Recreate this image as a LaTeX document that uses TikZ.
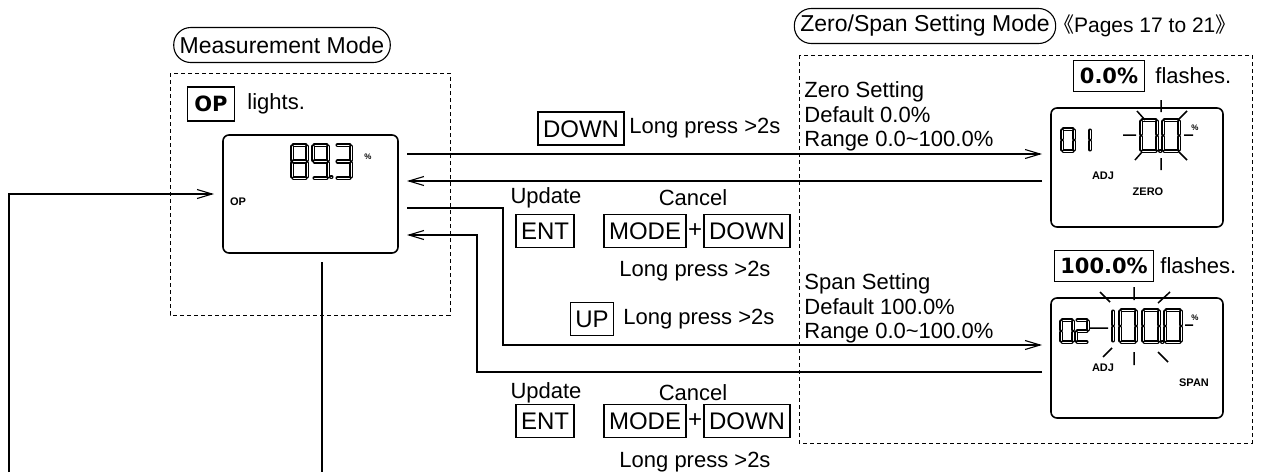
\documentclass[tikz,border=0pt]{standalone}
\usepackage{fontspec}
\setmainfont{Liberation Sans}
\newfontfamily\keyfont{DejaVu Sans}
\newfontfamily\cjk{Noto Sans CJK JP}
\usetikzlibrary{arrows.meta,calc}

% segments of one LCD digit, cell \dw x \dh
\newcommand{\lcdsega}{(1.5,0) -- (\dw-1.5,0)}
\newcommand{\lcdsegb}{(\dw,1.5) -- (\dw,\dh/2-1.5)}
\newcommand{\lcdsegc}{(\dw,\dh/2+1.5) -- (\dw,\dh-1.5)}
\newcommand{\lcdsegd}{(1.5,\dh) -- (\dw-1.5,\dh)}
\newcommand{\lcdsege}{(0,\dh/2+1.5) -- (0,\dh-1.5)}
\newcommand{\lcdsegf}{(0,1.5) -- (0,\dh/2-1.5)}
\newcommand{\lcdsegg}{(1.5,\dh/2) -- (\dw-1.5,\dh/2)}
\newcommand{\segdigit}[5]{%
  \begin{scope}[shift={(#1,#2)}]
    \def\dw{#3}\def\dh{#4}
    \foreach \s in {#5}{\draw[lcdseg] \csname lcdseg\s\endcsname;}
  \end{scope}}

\tikzset{
  txt/.style={font=\fontsize{11}{12.4}\selectfont, inner sep=0pt},
  modepill/.style={draw, line width=0.55pt, rounded corners=8.5pt, minimum height=17.5pt,
    inner xsep=3pt, inner ysep=0pt, font=\fontsize{11.5}{13}\selectfont},
  key/.style={draw, line width=0.55pt, font=\fontsize{12}{14}\selectfont, inner xsep=2.5pt,
    inner ysep=0pt, minimum height=16.5pt, text height=8.6pt, text depth=0pt},
  keylbl/.style={draw, line width=0.55pt, font=\keyfont\bfseries\fontsize{10.5}{12}\selectfont,
    inner xsep=3pt, inner ysep=0pt, minimum height=15.5pt, text height=7.7pt, text depth=0pt},
  lcd/.style={draw, line width=0.8pt, rounded corners=3pt, inner sep=0pt, outer sep=4.5pt},
  lcdtxt/.style={font=\bfseries\fontsize{5.5}{6}\selectfont, inner sep=0pt},
  lcdpct/.style={font=\bfseries\fontsize{4}{5}\selectfont, inner sep=0pt},
  lcdseg/.style={line width=0.8pt, double=white, double distance=0.45pt, line cap=round},
  ray/.style={line width=0.75pt},
  area/.style={line width=0.5pt, dash pattern=on 2pt off 1.5pt},
  flow/.style={line width=0.55pt, -{Straight Barb[length=7.5pt,width=4.5pt]}},
}

\begin{document}
\begin{tikzpicture}[x=0.5pt,y=-0.5pt]
\useasboundingbox (0,0) rectangle (1262,472);

\node[modepill] (measMode) at (282,45) {Measurement Mode};

\node[modepill] (zsMode) at (925,26) {Zero/Span Setting Mode};

\node[txt, font=\fontsize{10.5}{12}\selectfont] (pages) at (1150,26)
  {\hspace{-.5em}{\cjk 《}Pages 17 to 21{\cjk 》}\hspace{-.5em}};

\draw[area] (170,73) rectangle (450,315);

\draw[area] (799,55) rectangle (1252,443);

% measurement display
\node[keylbl, minimum height=17pt, inner xsep=3.5pt] (opKey) at (211,104) {OP};
\node[txt, anchor=west] (opLights) at (247,104) {lights.};

\node[lcd, minimum width=87.5pt, minimum height=59pt] (measLCD) at (310.5,194) {};
\segdigit{292}{145}{15}{33}{a,b,c,d,e,f,g}
\segdigit{313}{145}{15}{33}{a,b,c,d,f,g}
\draw[lcdseg] (331,177) -- (331.5,177);
\segdigit{336}{145}{15}{33}{a,b,c,d,g}
\node[lcdpct] (measPct) at (368,157) {\%};
\node[lcdtxt] (measOP) at (238,202) {OP};

% zero setting
\node[txt, anchor=north west, align=left] (zeroInfo) at (804,81)
  {Zero Setting\\Default 0.0\%\\Range 0.0\textasciitilde 100.0\%};

\node[keylbl] (zeroFlash) at (1109,76) {0.0\%};
\node[txt, anchor=west] (zeroFlashTxt) at (1155,76) {flashes.};

\node[lcd, minimum width=86pt, minimum height=59.5pt] (zeroLCD) at (1137,167.5) {};
\segdigit{1062}{129}{12}{22}{a,b,c,d,e,f}
\segdigit{1078}{129}{12}{22}{b,c}
\segdigit{1141}{120}{16}{31}{a,b,c,d,e,f}
\draw[lcdseg] (1160,151) -- (1160.5,151);
\segdigit{1163}{120}{16}{31}{a,b,c,d,e,f}
\draw[ray] (1161,100) -- (1161,112) (1161,158) -- (1161,170)
  (1137,111) -- (1145,120) (1187,111) -- (1178,120)
  (1135,160) -- (1142,152) (1187,160) -- (1179,152)
  (1123,135) -- (1136,135) (1184,135) -- (1193,135);
\node[lcdpct] (zeroPct) at (1195,128) {\%};
\node[lcdtxt] (zeroAdj) at (1103,176) {ADJ};
\node[lcdtxt] (zeroTag) at (1148,192) {ZERO};

% span setting
\node[txt, anchor=north west, align=left] (spanInfo) at (804,273)
  {Span Setting\\Default 100.0\%\\Range 0.0\textasciitilde 100.0\%};

\node[keylbl] (spanFlash) at (1104,266) {100.0\%};
\node[txt, anchor=west] (spanFlashTxt) at (1160,266) {flashes.};

\node[lcd, minimum width=86pt, minimum height=60pt] (spanLCD) at (1137,358) {};
\segdigit{1061}{320}{12}{22}{a,b,c,d,e,f}
\segdigit{1076}{320}{12}{22}{a,b,g,e,d}
\segdigit{1097}{310}{16}{32}{b,c}
\segdigit{1120}{310}{16}{32}{a,b,c,d,e,f}
\segdigit{1143}{310}{16}{32}{a,b,c,d,e,f}
\draw[lcdseg] (1162,342) -- (1162.5,342);
\segdigit{1165}{310}{16}{32}{a,b,c,d,e,f}
\draw[ray] (1134,287) -- (1134,300) (1134,352) -- (1134,365)
  (1100,292) -- (1110,302) (1170,292) -- (1158,303)
  (1103,357) -- (1112,348) (1168,362) -- (1158,352)
  (1090,328) -- (1108,328) (1185,325) -- (1193,325);
\node[lcdpct] (spanPct) at (1195,318) {\%};
\node[lcdtxt] (spanAdj) at (1103,368) {ADJ};
\node[lcdtxt] (spanTag) at (1194,383) {SPAN};

% key operations
\node[key] (dnKeyA) at (581,128.5) {DOWN};
\node[txt, anchor=west] (lpA) at (629,128.5) {Long press >2s};

\node[txt] (updA) at (546,198) {Update};
\node[key] (entA) at (545,231) {ENT};
\node[txt] (canA) at (693,198) {Cancel};
\node[key] (modeA) at (645,231) {MODE};
\node[txt, font=\fontsize{12}{14}\selectfont] (plusA) at (695,231) {+};
\node[key] (dnKeyB) at (747,231) {DOWN};
\node[txt] (lpB) at (695,271) {Long press >2s};

\node[key] (upKey) at (592,319) {UP};
\node[txt, anchor=west] (lpC) at (623,319) {Long press >2s};

\node[txt] (updB) at (546,393) {Update};
\node[key] (entB) at (545,421) {ENT};
\node[txt] (canB) at (693,393) {Cancel};
\node[key] (modeB) at (645,421) {MODE};
\node[txt, font=\fontsize{12}{14}\selectfont] (plusB) at (695,421) {+};
\node[key] (dnKeyC) at (747,421) {DOWN};
\node[txt] (lpD) at (695,462) {Long press >2s};

% connectors
\coordinate (z1) at ($(zeroLCD.west)+(0,-13.5)$);
\coordinate (z2) at ($(zeroLCD.west)+(0,13.5)$);
\coordinate (s1) at ($(spanLCD.west)+(0,-13)$);
\coordinate (s2) at ($(spanLCD.west)+(0,14)$);
\coordinate (m3) at ($(measLCD.east)+(0,14)$);
\coordinate (m4) at ($(measLCD.east)+(0,41)$);
\coordinate (upBend) at (503,0);
\coordinate (retBend) at (477,0);
\coordinate (fbIn) at (9,472);
\coordinate (fbOut) at (322,472);

\draw[flow] (measLCD.east |- z1) -- (z1);

\draw[flow] (z2) -- (measLCD.east |- z2);

\draw[flow] (m3) -- (m3 -| upBend) |- (s1);

\draw[flow] (s2) -- (s2 -| retBend) |- (m4);

\draw[flow] (fbIn) |- (measLCD.west);

\draw[line width=0.55pt] (measLCD.south -| fbOut) -- (fbOut);
\end{tikzpicture}
\end{document}
